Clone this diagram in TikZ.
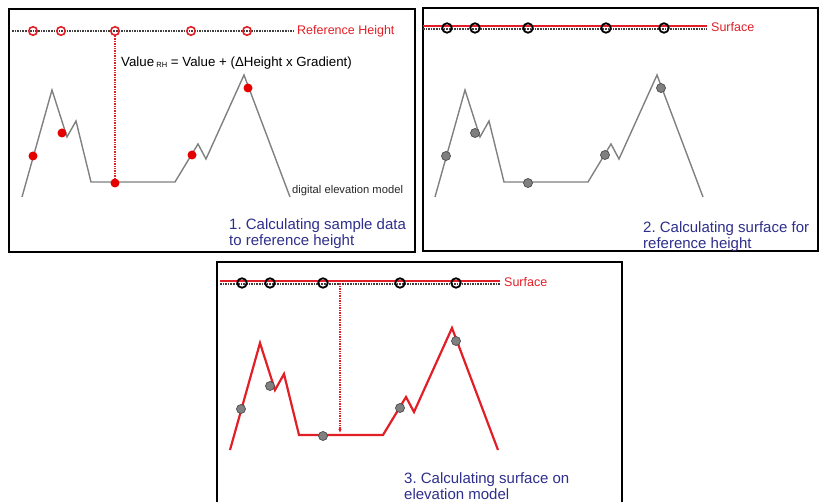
\documentclass[tikz,border=0pt]{standalone}
\usepackage{fontspec}
\setmainfont{Liberation Sans}
\usetikzlibrary{arrows.meta,positioning}
\usepackage{xcolor}
\definecolor{refred}{RGB}{226,30,38}
\definecolor{capblue}{RGB}{46,46,140}
\definecolor{demgray}{RGB}{128,128,128}
\frenchspacing

% terrain profile, drawn once per panel
\newcommand{\demline}{(22,197) -- (52,90) -- (67,137) -- (76,121) -- (91,182) -- (175,182) -- (198,144) -- (206,159) -- (244,75) -- (290,197)}
\newcommand{\samplepts}{33/156,62/133,115/183,192/155,248/88}

\begin{document}
\begin{tikzpicture}[x=1pt, y=-1pt,
  panel/.style={draw, line width=2.2pt},
  dem/.style={demgray, line width=1.4pt},
  reddot/.style={circle, fill=red!90!black, inner sep=0pt, minimum size=9pt},
  graydot/.style={circle, fill=gray, draw=black!70, line width=0.7pt, inner sep=0pt, minimum size=9pt},
  refring/.style={circle, draw=refred, line width=1.6pt, inner sep=0pt, minimum size=8.5pt},
  surfring/.style={circle, draw=black, line width=1.8pt, inner sep=0pt, minimum size=9.5pt},
  refline/.style={black!75, densely dotted, line width=1.6pt},
  drop/.style={refred, densely dotted, line width=1.4pt},
  caption/.style={text=capblue, font=\fontsize{15}{16}\selectfont, align=left, anchor=north west, inner sep=0pt},
  lbl/.style={text=refred, font=\fontsize{12.5}{14}\selectfont, anchor=west, inner sep=0pt}]
  \useasboundingbox (0,0) rectangle (820,502);

  % panel 1
  \draw[panel] (9,9) rectangle (415,252);
  \coordinate (p1start) at (12,31);
  \node[lbl] (p1lab) at (297,31) {Reference Height};
  \draw[refline] (p1start) -- ([xshift=-3pt]p1lab.west);
  \foreach \x [count=\i] in {33,61,115,191,247}
    \node[refring] (p1r\i) at (\x,31) {};
  \draw[dem] \demline;
  \foreach \x/\y [count=\i] in \samplepts
    \node[reddot] (p1d\i) at (\x,\y) {};
  \draw[drop] (p1r3) -- (p1d3);
  \node[anchor=west, inner sep=0pt, font=\fontsize{13.3}{15}\selectfont] (formula) at (121,63)
    {Value\,\raisebox{-1.5pt}{\fontsize{7.5}{8}\selectfont RH} = Value + (ΔHeight x Gradient)};
  \node[anchor=west, inner sep=0pt, text=black!85, font=\fontsize{11.2}{12}\selectfont] (demlab) at (292,191) {digital elevation model};
  \node[caption] (cap1) at (229,218) {1. Calculating sample data\\to reference height};

  % panel 2
  \draw[panel] (423,8) rectangle (818,251);
  \coordinate (p2start) at (423,26);
  \coordinate (p2dots) at (423,29);
  \node[lbl] (p2lab) at (711,27) {Surface};
  \draw[refline] (p2dots) -- ([xshift=-4pt]p2dots -| p2lab.west);
  \draw[refred, line width=1.5pt] (p2start) -- ([xshift=-4pt]p2start -| p2lab.west);
  \foreach \x [count=\i] in {447,475,528,606,664}
    \node[surfring] (p2r\i) at (\x,28) {};
  \begin{scope}[shift={(413,0)}]
    \draw[dem] \demline;
    \foreach \x/\y [count=\i] in \samplepts
      \node[graydot] (p2d\i) at (\x,\y) {};
  \end{scope}
  \node[caption] (cap2) at (643,221) {2. Calculating surface for\\reference height};

  % panel 3
  \draw[panel] (217,506) -- (217,262) -- (622,262) -- (622,506);
  \coordinate (p3start) at (220,281);
  \coordinate (p3dots) at (220,284);
  \node[lbl] (p3lab) at (504,282) {Surface};
  \draw[refline] (p3dots) -- ([xshift=-4pt]p3dots -| p3lab.west);
  \draw[refred, line width=1.5pt] (p3start) -- ([xshift=-4pt]p3start -| p3lab.west);
  \foreach \x [count=\i] in {242,270,323,400,456}
    \node[surfring] (p3r\i) at (\x,283) {};
  \begin{scope}[shift={(208,253)}]
    \draw[refred, line width=2.2pt] \demline;
    \foreach \x/\y [count=\i] in \samplepts
      \node[graydot] (p3d\i) at (\x,\y) {};
  \end{scope}
  \coordinate (a3top) at (340,281);
  \coordinate (a3bot) at (340,433);
  \draw[drop, -{Latex[length=4pt,width=3.5pt]}] (a3top) -- (a3bot);
  \node[caption] (cap3) at (404,472) {3. Calculating surface on\\elevation model};
\end{tikzpicture}
\end{document}
